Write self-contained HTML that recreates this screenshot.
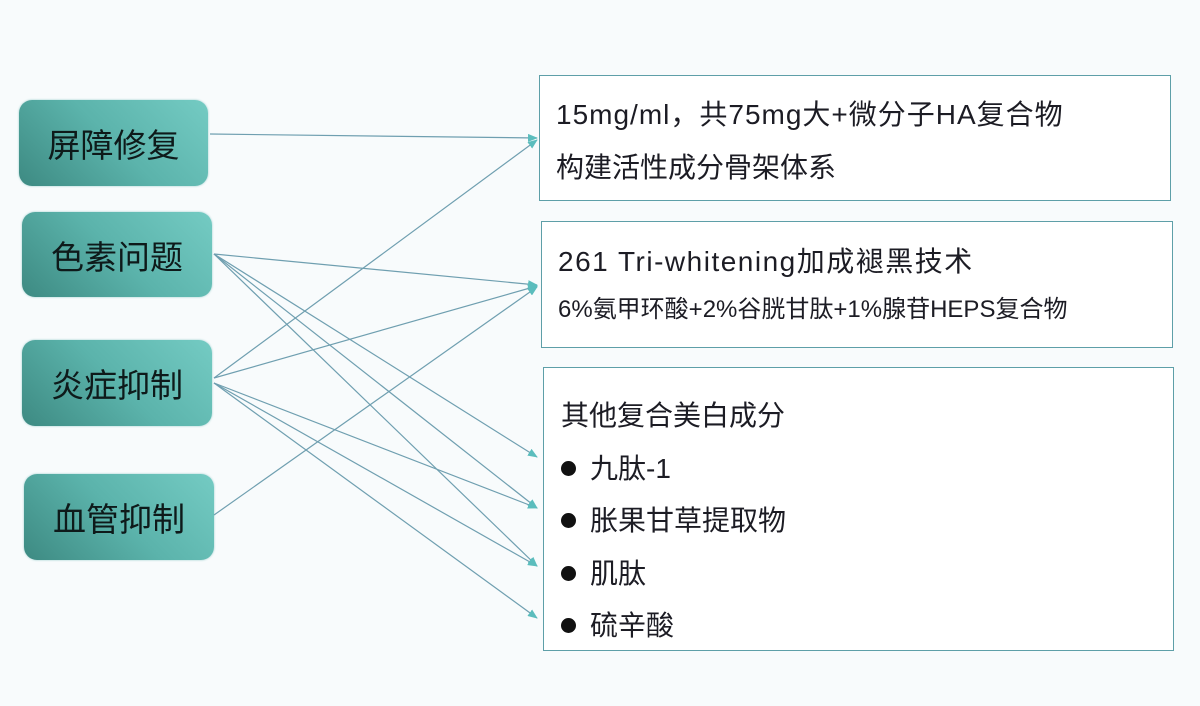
<!DOCTYPE html>
<html><head><meta charset="utf-8"><style>
body{margin:0;width:1200px;height:706px;background:#f8fbfc;position:relative;overflow:hidden;font-family:"Liberation Sans","Noto Sans CJK SC",sans-serif;color:#1c1c24}
.l{position:absolute;border-radius:13px;background:linear-gradient(45deg,#3d8a82 0%,#5bb3ab 50%,#74cbc3 100%);display:flex;align-items:center;justify-content:center;font-size:33px;color:#0e1a1a;box-shadow:0 0 2px #9cc}
.r{position:absolute;border:1.5px solid #5e9fa8;background:#fff;box-sizing:border-box}
.t{position:absolute;white-space:nowrap;font-size:28px;line-height:32px}
.b{display:inline-block;width:15px;height:15px;border-radius:50%;background:#111;margin-right:14px;vertical-align:middle;position:relative;top:-2px}
</style></head><body>
<div class="l" style="left:19px;top:100px;width:189px;height:86px">屏障修复</div>
<div class="l" style="left:22px;top:212px;width:190px;height:85px">色素问题</div>
<div class="l" style="left:22px;top:340px;width:190px;height:86px">炎症抑制</div>
<div class="l" style="left:24px;top:474px;width:190px;height:86px">血管抑制</div>
<div class="r" style="left:539px;top:75px;width:632px;height:126px"></div>
<div class="r" style="left:541px;top:221px;width:632px;height:127px"></div>
<div class="r" style="left:543px;top:367px;width:631px;height:284px"></div>
<div class="t" style="left:556px;top:99px;letter-spacing:1px">15mg/ml，共75mg大+微分子HA复合物</div>
<div class="t" style="left:556px;top:152px">构建活性成分骨架体系</div>
<div class="t" style="left:558px;top:246px;letter-spacing:1.5px">261 Tri-whitening加成褪黑技术</div>
<div class="t" style="left:558px;top:294px;font-size:24px">6%氨甲环酸+2%谷胱甘肽+1%腺苷HEPS复合物</div>
<div class="t" style="left:561px;top:400px">其他复合美白成分</div>
<div class="t" style="left:561px;top:453px"><span class="b"></span>九肽-1</div>
<div class="t" style="left:561px;top:505px"><span class="b"></span>胀果甘草提取物</div>
<div class="t" style="left:561px;top:558px"><span class="b"></span>肌肽</div>
<div class="t" style="left:561px;top:610px"><span class="b"></span>硫辛酸</div>
<svg width="1200" height="706" style="position:absolute;left:0;top:0">
<defs><marker id="a" markerWidth="10" markerHeight="8" refX="9" refY="4" orient="auto" markerUnits="userSpaceOnUse"><path d="M0,0L10,4L0,8z" fill="#5bbdbd"/></marker></defs>
<g stroke="#6f9fb0" stroke-width="1.2" fill="none" marker-end="url(#a)">
<line x1="210" y1="134" x2="537" y2="138"/>
<line x1="214" y1="254" x2="537" y2="285"/>
<line x1="214" y1="254" x2="537" y2="457"/>
<line x1="214" y1="254" x2="537" y2="508"/>
<line x1="214" y1="254" x2="537" y2="566"/>
<line x1="214" y1="378" x2="537" y2="140"/>
<line x1="214" y1="378" x2="537" y2="286"/>
<line x1="214" y1="383" x2="537" y2="508"/>
<line x1="214" y1="383" x2="537" y2="566"/>
<line x1="214" y1="383" x2="537" y2="618"/>
<line x1="214" y1="515" x2="537" y2="287"/>
</g></svg>
</body></html>
